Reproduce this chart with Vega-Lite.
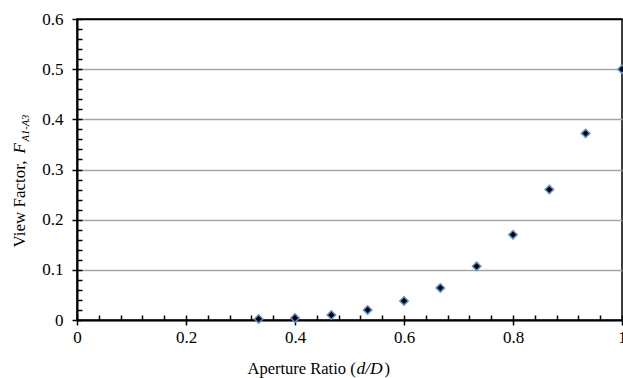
{
  "$schema": "https://vega.github.io/schema/vega-lite/v6.json",
  "width": 545,
  "height": 301,
  "autosize": {"type": "none"},
  "padding": {"left": 77, "top": 19, "right": 1, "bottom": 58},
  "background": "white",
  "config": {
    "view": {"stroke": "black", "strokeWidth": 1.5},
    "font": "Liberation Serif",
    "axis": {"labelFont": "Liberation Serif", "titleFont": "Liberation Serif", "labelColor": "black", "titleColor": "black", "titleFontWeight": "normal", "tickColor": "black", "domainColor": "black"}
  },
  "data": {
    "values": [
      {"ratio": 0.3333, "vf": 0.002},
      {"ratio": 0.4, "vf": 0.004},
      {"ratio": 0.4667, "vf": 0.01},
      {"ratio": 0.5333, "vf": 0.02},
      {"ratio": 0.6, "vf": 0.038},
      {"ratio": 0.6667, "vf": 0.064},
      {"ratio": 0.7333, "vf": 0.107},
      {"ratio": 0.8, "vf": 0.17},
      {"ratio": 0.8667, "vf": 0.26},
      {"ratio": 0.9333, "vf": 0.372},
      {"ratio": 1.0, "vf": 0.5}
    ]
  },
  "layer": [
    {
      "mark": {"type": "point", "shape": "diamond", "filled": true, "fill": "black", "stroke": "#5b8fd0", "strokeWidth": 1.5, "size": 70, "opacity": 1},
      "encoding": {
        "x": {
          "field": "ratio", "type": "quantitative",
          "scale": {"domain": [0, 1], "nice": false, "zero": false},
          "axis": {
            "orient": "bottom", "values": [0, 0.2, 0.4, 0.6, 0.8, 1], "format": ".1~f",
            "grid": false, "domainWidth": 2, "tickSize": 5, "tickWidth": 1.5,
            "labelFontSize": 17, "labelPadding": 4, "labelFlush": false,
            "title": "Aperture Ratio (", "titleFontSize": 16.5, "titleAlign": "left", "titleBaseline": "alphabetic",
            "titleX": 170, "titleY": 53
          }
        },
        "y": {
          "field": "vf", "type": "quantitative",
          "scale": {"domain": [0, 0.6], "nice": false, "zero": false},
          "axis": {
            "orient": "left", "values": [0, 0.1, 0.2, 0.3, 0.4, 0.5, 0.6], "format": ".1~f",
            "grid": true, "gridColor": {"condition": {"test": "datum.value > 0.59", "value": "black"}, "value": "#a6a6a6"}, "gridWidth": 1.5,
            "domainWidth": 2, "tickSize": 5, "tickWidth": 1.5,
            "labelFontSize": 17, "labelPadding": 9, "labelFlush": false,
            "title": "View Factor,", "titleFontSize": 17, "titleAngle": -90, "titleAlign": "left", "titleBaseline": "alphabetic",
            "titleX": -53, "titleY": 228
          }
        }
      }
    },
    {
      "mark": {"type": "point", "opacity": 0},
      "encoding": {
        "x": {
          "field": "ratio", "type": "quantitative",
          "axis": {
            "orient": "bottom", "values": [0, 0.04, 0.08, 0.12, 0.16, 0.2, 0.24, 0.28, 0.32, 0.36, 0.4, 0.44, 0.48, 0.52, 0.56, 0.6, 0.64, 0.68, 0.72, 0.76, 0.8, 0.84, 0.88, 0.92, 0.96, 1],
            "grid": false, "domain": false, "labels": false, "tickSize": -5, "tickWidth": 1.5,
            "title": "d/D", "titleFontSize": 17.5, "titleFontStyle": "italic", "titleAlign": "left", "titleBaseline": "alphabetic",
            "titleX": 279, "titleY": 53
          }
        },
        "y": {
          "field": "vf", "type": "quantitative",
          "axis": {
            "orient": "left", "values": [0, 0.02, 0.04, 0.06, 0.08, 0.1, 0.12, 0.14, 0.16, 0.18, 0.2, 0.22, 0.24, 0.26, 0.28, 0.3, 0.32, 0.34, 0.36, 0.38, 0.4, 0.42, 0.44, 0.46, 0.48, 0.5, 0.52, 0.54, 0.56, 0.58, 0.6],
            "grid": false, "domain": false, "labels": false, "tickSize": -5, "tickWidth": 1.5,
            "title": "F", "titleFontSize": 17, "titleFontStyle": "italic", "titleAngle": -90, "titleAlign": "left", "titleBaseline": "alphabetic",
            "titleX": -53, "titleY": 134
          }
        }
      }
    },
    {
      "mark": {"type": "point", "opacity": 0},
      "encoding": {
        "x": {
          "field": "ratio", "type": "quantitative",
          "axis": {
            "orient": "bottom", "grid": false, "domain": false, "labels": false, "ticks": false,
            "title": ")", "titleFontSize": 16.5, "titleAlign": "left", "titleBaseline": "alphabetic",
            "titleX": 307, "titleY": 53
          }
        },
        "y": {
          "field": "vf", "type": "quantitative",
          "axis": {
            "orient": "left", "grid": false, "domain": false, "labels": false, "ticks": false,
            "title": "A1-A3", "titleFontSize": 10.5, "titleFontStyle": "italic", "titleAngle": -90, "titleAlign": "left", "titleBaseline": "alphabetic",
            "titleX": -49, "titleY": 122
          }
        }
      }
    }
  ],
  "resolve": {"axis": {"x": "independent", "y": "independent"}}
}
